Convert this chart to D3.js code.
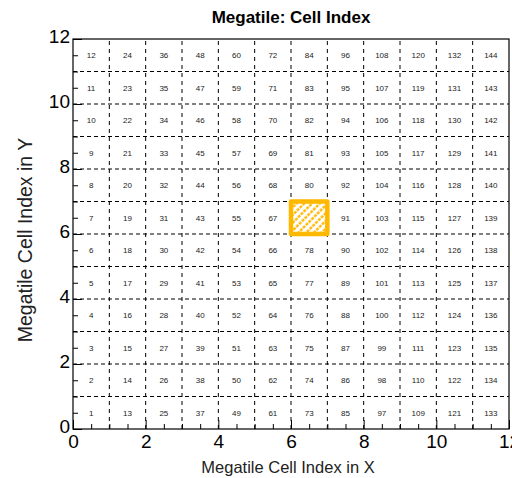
<!DOCTYPE html>
<html>
<head>
<meta charset="utf-8">
<script src="https://cdn.jsdelivr.net/npm/d3@7"></script>
<style>
  body { margin: 0; background: #fff; }
  svg { display: block; font-family: "Liberation Sans", Arial, sans-serif; }
</style>
</head>
<body>
<div id="chart"></div>
<script>
// cell index per row, bottom row (y = 0) first, column x = 0 .. 11
const cellRows = [
  [1, 13, 25, 37, 49, 61, 73, 85, 97, 109, 121, 133],
  [2, 14, 26, 38, 50, 62, 74, 86, 98, 110, 122, 134],
  [3, 15, 27, 39, 51, 63, 75, 87, 99, 111, 123, 135],
  [4, 16, 28, 40, 52, 64, 76, 88, 100, 112, 124, 136],
  [5, 17, 29, 41, 53, 65, 77, 89, 101, 113, 125, 137],
  [6, 18, 30, 42, 54, 66, 78, 90, 102, 114, 126, 138],
  [7, 19, 31, 43, 55, 67, 79, 91, 103, 115, 127, 139],
  [8, 20, 32, 44, 56, 68, 80, 92, 104, 116, 128, 140],
  [9, 21, 33, 45, 57, 69, 81, 93, 105, 117, 129, 141],
  [10, 22, 34, 46, 58, 70, 82, 94, 106, 118, 130, 142],
  [11, 23, 35, 47, 59, 71, 83, 95, 107, 119, 131, 143],
  [12, 24, 36, 48, 60, 72, 84, 96, 108, 120, 132, 144]
];
const hiddenCells = [79];          // the highlighted cell shows no label
const highlightCell = { x: 6, y: 6 };
const xTicks = [0, 2, 4, 6, 8, 10, 12];
const yTicks = [0, 2, 4, 6, 8, 10, 12];
const minorTicks = [0.5, 1, 1.5, 2.5, 3, 3.5, 4.5, 5, 5.5, 6.5, 7, 7.5, 8.5, 9, 9.5, 10.5, 11, 11.5];
const gridLines = [1, 2, 3, 4, 5, 6, 7, 8, 9, 10, 11];

const width = 512, height = 478;
const margin = { top: 39, right: 3, bottom: 49, left: 73 };
const orange = "#ffb800";

const svg = d3.select("#chart").append("svg")
  .attr("width", width)
  .attr("height", height);

const x = d3.scaleLinear().domain([0, 12]).range([margin.left, width - margin.right]);
const y = d3.scaleLinear().domain([0, 12]).range([height - margin.bottom, margin.top]);

// hatch pattern for the highlighted cell
const defs = svg.append("defs");
defs.append("pattern")
  .attr("id", "hatch")
  .attr("patternUnits", "userSpaceOnUse")
  .attr("width", 5.5).attr("height", 4)
  .attr("patternTransform", "rotate(45)")
  .append("line")
  .attr("x1", 1.5).attr("y1", 0).attr("x2", 1.5).attr("y2", 4)
  .attr("stroke", orange).attr("stroke-width", 2.3)
  .attr("stroke-dasharray", "3,1");

// dashed grid
svg.append("g").selectAll("line.v").data(gridLines).join("line")
  .attr("x1", d => x(d)).attr("x2", d => x(d))
  .attr("y1", y(0)).attr("y2", y(12))
  .attr("stroke", "#000").attr("stroke-width", 1)
  .attr("stroke-dasharray", "4,4");
svg.append("g").selectAll("line.h").data(gridLines).join("line")
  .attr("y1", d => y(d)).attr("y2", d => y(d))
  .attr("x1", x(0)).attr("x2", x(12))
  .attr("stroke", "#000").attr("stroke-width", 1)
  .attr("stroke-dasharray", "4,3");

// highlighted cell
const hx = x(highlightCell.x), hy = y(highlightCell.y + 1);
const hw = x(highlightCell.x + 1) - hx, hh = y(highlightCell.y) - hy;
svg.append("rect")
  .attr("x", hx).attr("y", hy).attr("width", hw).attr("height", hh)
  .attr("fill", "#fff");
svg.append("rect")
  .attr("x", hx).attr("y", hy).attr("width", hw).attr("height", hh)
  .attr("fill", "url(#hatch)")
  .attr("stroke", orange).attr("stroke-width", 4.5)
  .attr("stroke-linejoin", "round");

// cell labels
const cells = cellRows.flatMap((row, j) => row.map((v, i) => ({ i, j, v })))
  .filter(d => !hiddenCells.includes(d.v));
svg.append("g").selectAll("text").data(cells).join("text")
  .attr("x", d => x(d.i + 0.5))
  .attr("y", d => y(d.j + 0.5) + 3)
  .attr("text-anchor", "middle")
  .attr("font-size", 8)
  .attr("fill", "#222")
  .text(d => d.v);

// axes
const xAxis = d3.axisBottom(x).tickValues(xTicks).tickSize(-9).tickPadding(6).tickFormat(d3.format("d"));
const yAxis = d3.axisLeft(y).tickValues(yTicks).tickSize(-9).tickPadding(3).tickFormat(d3.format("d"));
const xMinor = d3.axisBottom(x).tickValues(minorTicks).tickSize(-5).tickFormat("");
const yMinor = d3.axisLeft(y).tickValues(minorTicks).tickSize(-5).tickFormat("");

function style(g) {
  g.select(".domain").remove();
  g.selectAll("line").attr("stroke", "#000");
  g.selectAll("text").attr("font-size", 19).attr("fill", "#000")
    .attr("font-family", "Liberation Sans, Arial, sans-serif");
}
svg.append("g").attr("transform", `translate(0,${y(0)})`).call(xAxis).call(style);
svg.append("g").attr("transform", `translate(0,${y(0)})`).call(xMinor).call(style);
svg.append("g").attr("transform", `translate(${x(0)},0)`).call(yAxis).call(style)
  .selectAll("text").attr("dy", "0.2em");
svg.append("g").attr("transform", `translate(${x(0)},0)`).call(yMinor).call(style);

// frame
svg.append("rect")
  .attr("x", x(0)).attr("y", y(12))
  .attr("width", x(12) - x(0)).attr("height", y(0) - y(12))
  .attr("fill", "none").attr("stroke", "#000").attr("stroke-width", 1.2);

// titles
svg.append("text")
  .attr("x", 291).attr("y", 23)
  .attr("text-anchor", "middle")
  .attr("font-size", 17).attr("font-weight", "bold")
  .text("Megatile: Cell Index");
svg.append("text")
  .attr("x", 288).attr("y", 473)
  .attr("text-anchor", "middle")
  .attr("font-size", 16.5)
  .attr("fill", "#222")
  .text("Megatile Cell Index in X");
svg.append("text")
  .attr("transform", "translate(32,240) rotate(-90)")
  .attr("text-anchor", "middle")
  .attr("font-size", 19.5)
  .attr("fill", "#222")
  .text("Megatile Cell Index in Y");
</script>
</body>
</html>
